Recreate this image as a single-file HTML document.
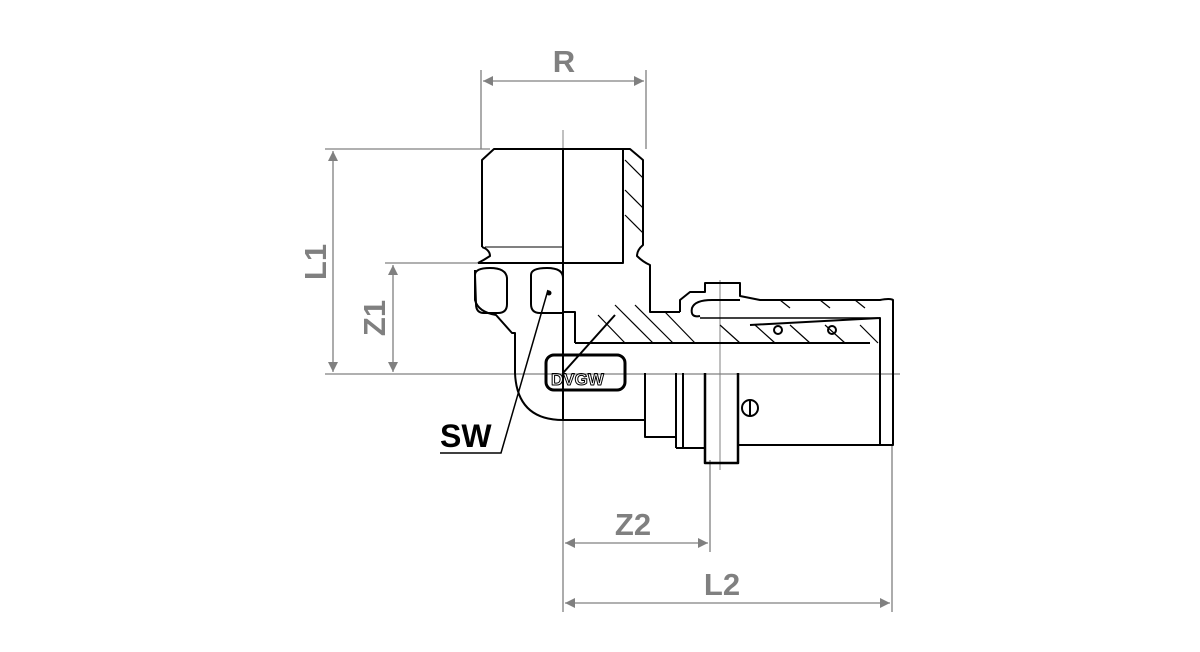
<!DOCTYPE html>
<html><head><meta charset="utf-8"><style>
html,body{margin:0;padding:0;background:#fff;}
svg{display:block}
text{font-family:"Liberation Sans",Arial,sans-serif;font-weight:bold}
</style></head><body>
<svg width="1200" height="652" viewBox="0 0 1200 652" xmlns="http://www.w3.org/2000/svg">
<defs>
<marker id="a" viewBox="0 0 10 10" refX="10" refY="5" markerWidth="26" markerHeight="10" markerUnits="userSpaceOnUse" orient="auto-start-reverse"><path d="M0,0L10,5L0,10z" fill="#808080"/></marker>
</defs>
<g stroke="#808080" stroke-width="1.3" fill="none">
<line x1="481" y1="70" x2="481" y2="149"/>
<line x1="646" y1="70" x2="646" y2="149"/>
<line x1="483" y1="81" x2="644" y2="81" marker-start="url(#a)" marker-end="url(#a)"/>
<line x1="325" y1="149" x2="490" y2="149"/>
<line x1="325" y1="374" x2="900" y2="374"/>
<line x1="333" y1="151" x2="333" y2="372" marker-start="url(#a)" marker-end="url(#a)"/>
<line x1="385" y1="263" x2="480" y2="263"/>
<line x1="393" y1="265" x2="393" y2="372" marker-start="url(#a)" marker-end="url(#a)"/>
<line x1="563" y1="420" x2="563" y2="612"/>
<line x1="710" y1="460" x2="710" y2="552"/>
<line x1="892" y1="445" x2="892" y2="612"/>
<line x1="565" y1="543" x2="708" y2="543" marker-start="url(#a)" marker-end="url(#a)"/>
<line x1="565" y1="603" x2="890" y2="603" marker-start="url(#a)" marker-end="url(#a)"/>
<line x1="563" y1="130" x2="563" y2="420" stroke-width="1"/>
<line x1="720" y1="280" x2="720" y2="470" stroke-width="1"/>
</g>
<g fill="#808080" font-size="31">
<text x="564" y="72" text-anchor="middle">R</text>
<text x="633" y="535" text-anchor="middle">Z2</text>
<text x="722" y="595" text-anchor="middle">L2</text>
<text transform="translate(326,262) rotate(-90)" text-anchor="middle">L1</text>
<text transform="translate(385,318) rotate(-90)" text-anchor="middle">Z1</text>
</g>
<text x="440" y="447" font-size="32" fill="#000">SW</text>
<polyline points="440,453 501,453 548,290" fill="none" stroke="#000" stroke-width="1.5"/>
<circle cx="549" cy="293" r="2.5" fill="#000"/>
<g stroke="#000" stroke-width="2" fill="none" stroke-linejoin="round">
<path d="M482,247 L482,160 L494,149 L563,149"/>
<path d="M482,247 Q490,250 490,256 Q484,260 478,263"/>
<line x1="485" y1="247" x2="563" y2="247" stroke-width="1"/>
<path d="M478,263 L563,263"/>
<path d="M475,270 L475,300 Q478,312 496,315 L512,333 L515,333 L515,373 Q517,420 563,420"/>
<path d="M475,275 Q475,268 490,268 Q506,268 507,278 L507,304 Q507,313 498,313 L484,313 Q476,313 476,304 Z"/>
<path d="M531,275 Q531,268 547,268 Q563,268 563,278 L563,313 L540,313 Q531,313 531,304 Z"/>
<path d="M563,149 L630,149 L643,160 L643,245 Q637,250 637,256 Q643,262 650,265 L650,312 L680,312"/>
<line x1="623" y1="149" x2="623" y2="255"/>
<path d="M563,263 L623,263 L623,255"/>
<line x1="563" y1="149" x2="563" y2="420"/>
<path d="M563,312 L575,312 L575,343"/>
<line x1="575" y1="343" x2="870" y2="343"/>
<line x1="563" y1="373" x2="615" y2="315"/>
<g stroke-width="1.2">
<line x1="625" y1="160" x2="643" y2="178"/><line x1="625" y1="190" x2="643" y2="208"/><line x1="625" y1="215" x2="643" y2="233"/>
<line x1="598" y1="315" x2="625" y2="343"/><line x1="615" y1="305" x2="653" y2="343"/><line x1="635" y1="305" x2="673" y2="343"/>
<line x1="665" y1="312" x2="695" y2="343"/><line x1="720" y1="325" x2="740" y2="343"/><line x1="755" y1="325" x2="775" y2="343"/>
<line x1="790" y1="325" x2="810" y2="343"/><line x1="825" y1="325" x2="845" y2="343"/><line x1="860" y1="325" x2="878" y2="343"/>
<line x1="780" y1="300" x2="790" y2="308"/><line x1="820" y1="300" x2="830" y2="308"/><line x1="855" y1="300" x2="865" y2="308"/>
</g>
<path d="M680,312 L680,300 L690,292 L705,292 L705,283 L740,283 L740,296 L760,300 L880,300 Q890,298 893,300 L893,445 L880,445"/>
<path d="M700,316 Q690,318 692,308 Q695,300 712,300 L740,300"/>
<line x1="700" y1="318" x2="878" y2="318" stroke-width="1.5"/>
<path d="M750,325 L880,318 L880,373"/>
<circle cx="778" cy="330" r="4"/><circle cx="832" cy="330" r="4"/>
<line x1="880" y1="373" x2="880" y2="445"/>
<rect x="546" y="355" width="79" height="35" rx="8" stroke-width="3"/>
<text x="551" y="385" font-size="17" fill="none" stroke="#000" stroke-width="1">DVGW</text>
<path d="M563,420 L645,420 L645,373"/>
<path d="M645,375 L645,437 L676,437 L676,373"/>
<path d="M676,448 L705,448"/>
<line x1="676" y1="373" x2="676" y2="448"/>
<line x1="683" y1="373" x2="683" y2="448"/>
<path d="M705,373 L705,463 L738,463 L738,373" stroke-width="2.5"/>
<line x1="738" y1="445" x2="880" y2="445"/>
<circle cx="750" cy="408" r="8"/><line x1="750" y1="400" x2="750" y2="416"/>
</g>
</svg>
</body></html>
